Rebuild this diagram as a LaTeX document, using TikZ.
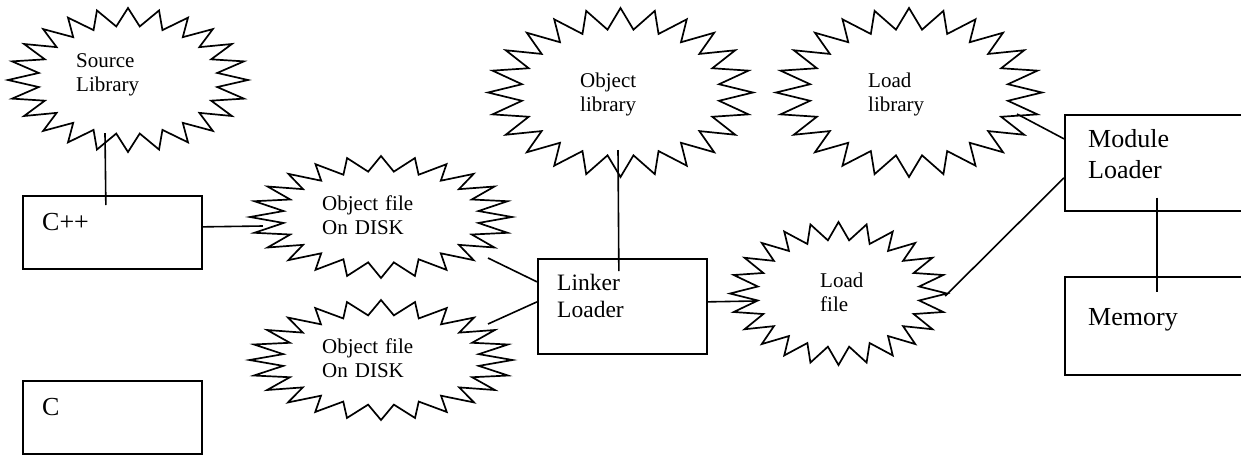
\documentclass[tikz,border=0pt]{standalone}
\usepackage{fontspec}
\setmainfont{Liberation Serif}
\usetikzlibrary{shapes.geometric}

\tikzset{
  x=1pt, y=1pt,
  burst/.style={line width=1.7pt},
  frame/.style={draw, rectangle, line width=1.7pt, inner sep=0pt, anchor=north west},
  area/.style={ellipse, inner sep=0pt, draw=none},
  burstlabel/.style={font=\fontsize{21}{24}\selectfont, align=left, text width=120pt,
                     inner sep=0pt, anchor=base west},
  boxlabel/.style={font=\fontsize{26}{31}\selectfont, align=left, text width=140pt,
                   inner sep=0pt, anchor=base west},
  link/.style={line width=1.6pt},
}

% 24-point star drawn round an ellipse node: #1 node, #2 x radius, #3 y radius
\newcommand\burstoutline[3]{%
  \begin{scope}[shift={(#1.center)}]
    \draw[burst] (90:#2 and #3)
      \foreach \k [evaluate=\k as \f using {ifthenelse(mod(\k,2)==0,1,0.75)}] in {1,...,47}
        { -- ({90+7.5*\k}:{\f*#2} and {\f*#3}) } -- cycle;
  \end{scope}}

\begin{document}
\begin{tikzpicture}
  \fill[white] (0,0) rectangle (1241,-472);
  \useasboundingbox (0,0) rectangle (1241,-472);

  % star-shaped stores
  \node[area, minimum width=240pt, minimum height=144pt] (srclib) at (128,-80) {};
  \node[area, minimum width=262pt, minimum height=122pt] (objA) at (381,-217) {};
  \node[area, minimum width=263pt, minimum height=120pt] (objB) at (381,-360) {};
  \node[area, minimum width=265pt, minimum height=169pt] (objlib) at (620.5,-92.5) {};
  \node[area, minimum width=266pt, minimum height=169pt] (loadlib) at (909,-92.5) {};
  \node[area, minimum width=217pt, minimum height=143pt] (loadfile) at (838.5,-293.5) {};

  \burstoutline{srclib}{120}{72}
  \burstoutline{objA}{131}{61}
  \burstoutline{objB}{131.5}{60}
  \burstoutline{objlib}{132.5}{84.5}
  \burstoutline{loadlib}{133}{84.5}
  \burstoutline{loadfile}{108.5}{71.5}

  \node[burstlabel] (srclibtext) at (76,-67.5) {Source\\Library};
  \node[burstlabel] (objAtext) at (322,-210) {Object file\\On DISK};
  \node[burstlabel] (objBtext) at (322,-353) {Object file\\On DISK};
  \node[burstlabel] (objlibtext) at (580,-87) {Object\\library};
  \node[burstlabel] (loadlibtext) at (868,-87) {Load\\library};
  \node[burstlabel] (loadfiletext) at (820,-287) {Load\\file};

  % program boxes
  \node[frame, minimum width=179pt, minimum height=73pt] (cpp) at (22,-195) {};
  \node[frame, minimum width=179pt, minimum height=73pt] (c) at (22,-380) {};
  \node[frame, minimum width=169pt, minimum height=95pt] (linker) at (537,-258) {};
  \node[frame, minimum width=178pt, minimum height=96pt] (module) at (1064,-114) {};
  \node[frame, minimum width=178pt, minimum height=98pt] (memory) at (1064,-276) {};

  \node[boxlabel] (cpptext) at (42,-230) {C++};
  \node[boxlabel] (ctext) at (42,-415) {C};
  \node[boxlabel, font=\fontsize{23.5}{27.3}\selectfont] (linkertext) at (557,-290) {Linker\\Loader};
  \node[boxlabel] (moduletext) at (1088,-147) {Module\\Loader};
  \node[boxlabel] (memorytext) at (1088,-325) {Memory};

  % connections
  \draw[link] ([shift={(-23,19)}]srclib.south) -- ([shift={(-6.5,-10)}]cpp.north);
  \draw[link] ([yshift=5.5]cpp.east) -- ([shift={(13,-9)}]objA.west);
  \draw[link] ([shift={(107,-41)}]objA.center) -- ([yshift=24.5]linker.west);
  \draw[link] ([shift={(107,36)}]objB.center) -- ([yshift=4.5]linker.west);
  \draw[link] ([shift={(-2.5,-57.5)}]objlib.center) -- ([shift={(-3.5,-13)}]linker.north);
  \draw[link] ([yshift=4.5]linker.east) -- ([shift={(25,-7.5)}]loadfile.west);
  \draw[link] ([shift={(-2,-2.5)}]loadfile.east) -- ([yshift=-15]module.west);
  \draw[link] ([shift={(108,-21.5)}]loadlib.center) -- ([yshift=24]module.west);
  \draw[link] ([shift={(3,14)}]module.south) -- ([shift={(3,-16)}]memory.north);
\end{tikzpicture}
\end{document}
